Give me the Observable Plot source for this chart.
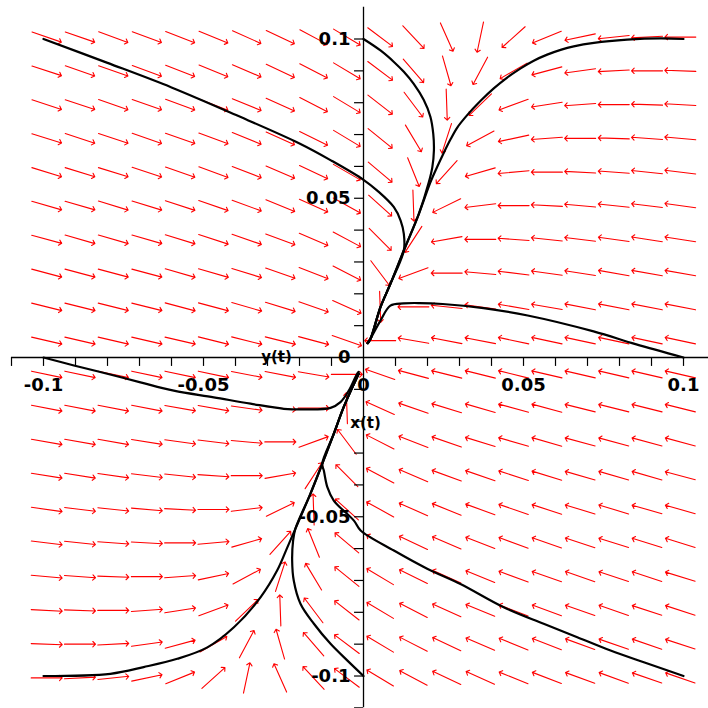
<!DOCTYPE html>
<html><head><meta charset="utf-8">
<script src="https://cdn.jsdelivr.net/npm/d3@7"></script>
<script src="https://cdn.jsdelivr.net/npm/@observablehq/plot@0.6"></script>
<style>html,body{margin:0;padding:0;background:#fff;}</style>
</head><body><div id="chart"></div>
<script>
// Direction-field grid (arrow centres)
const gridX = [-0.0990,-0.0886,-0.0782,-0.0677,-0.0573,-0.0469,-0.0365,-0.0260,-0.0156,-0.0052,0.0052,0.0156,0.0260,0.0365,0.0469,0.0573,0.0677,0.0782,0.0886,0.0990];
const gridY = [0.1006,0.0900,0.0794,0.0688,0.0582,0.0477,0.0371,0.0265,0.0159,0.0053,-0.0053,-0.0159,-0.0265,-0.0371,-0.0477,-0.0582,-0.0688,-0.0794,-0.0900,-0.1006];

// Arrow direction (degrees, counter-clockwise from +x), one row per gridY value
const arrowAngle = [
  [-19,-19,-20,-20,-21,-22,-24,-25,-28,-31,-37,-47,-66,-102,-138,-158,-168,-174,-177,-180],
  [-18,-19,-19,-20,-21,-22,-23,-25,-27,-31,-37,-49,-74,-118,-150,-165,-172,-177,-180,178],
  [-18,-18,-19,-19,-20,-21,-22,-24,-27,-31,-38,-53,-88,-136,-160,-171,-176,-180,178,177],
  [-17,-18,-18,-19,-19,-20,-22,-24,-26,-31,-39,-59,-108,-152,-168,-176,-180,178,176,175],
  [-17,-17,-17,-18,-19,-20,-21,-23,-25,-30,-40,-68,-132,-164,-175,-180,177,176,174,173],
  [-16,-16,-17,-17,-18,-19,-20,-22,-24,-29,-42,-88,-154,-173,-180,177,175,174,173,172],
  [-15,-16,-16,-16,-17,-18,-19,-20,-23,-28,-45,-123,-170,-180,176,174,173,172,171,171],
  [-15,-15,-15,-15,-16,-16,-17,-19,-21,-27,-53,-160,-180,175,173,172,171,170,170,170],
  [-14,-14,-14,-14,-15,-15,-16,-17,-19,-24,-88,-180,174,172,170,170,169,169,169,169],
  [-13,-13,-13,-13,-13,-14,-14,-14,-15,-19,-180,170,169,169,168,168,168,168,168,168],
  [-12,-12,-12,-12,-12,-12,-11,-11,-10,0,161,165,166,166,166,167,167,167,167,167],
  [-11,-11,-11,-11,-10,-10,-8,-6,0,92,156,161,163,164,165,165,166,166,166,166],
  [-10,-10,-10,-9,-8,-7,-5,0,20,127,153,159,161,163,164,164,165,165,165,165],
  [-9,-9,-8,-7,-6,-4,0,10,57,135,152,157,160,161,162,163,164,164,164,165],
  [-8,-7,-6,-5,-3,0,7,26,92,138,151,156,158,160,161,162,163,163,164,164],
  [-7,-6,-4,-3,0,5,16,48,112,140,150,155,157,159,160,161,162,163,163,163],
  [-5,-4,-2,0,4,12,28,72,121,141,149,154,156,158,160,161,161,162,162,163],
  [-3,-2,0,4,9,20,44,92,127,142,149,153,156,158,159,160,161,161,162,162],
  [-2,0,3,8,15,30,62,106,131,143,149,153,155,157,158,159,160,161,161,162],
  [0,3,6,12,22,42,78,114,133,143,149,152,155,156,158,159,160,160,161,161]
];

// Solution curves [x, y]
const curveTopAxis = [[0,0.1],[0.0053,0.0964],[0.0095,0.0928],[0.0126,0.0897],[0.0157,0.0859],[0.0188,0.0809],[0.0209,0.0756],[0.0218,0.0702],[0.022,0.065],[0.0215,0.0597],[0.0204,0.055],[0.0173,0.0451],[0.0126,0.0336],[0.0084,0.0231],[0.0053,0.0158],[0.0022,0.0059],[0.0013,0.0045]];
const curveTopRight = [[0.1,0.1],[0.0928,0.1002],[0.0824,0.0998],[0.072,0.0988],[0.0657,0.0977],[0.0616,0.0966],[0.0574,0.0951],[0.0532,0.0932],[0.0491,0.0908],[0.0449,0.0879],[0.0407,0.0845],[0.0366,0.0806],[0.0324,0.0761],[0.0293,0.0722],[0.0272,0.0685],[0.0251,0.0643],[0.023,0.0598],[0.0209,0.055],[0.0173,0.0451],[0.0126,0.0336],[0.0084,0.0231],[0.0053,0.0158],[0.0022,0.0059],[0.0013,0.0045]];
const curveTopLeft = [[-0.1,0.1],[-0.08,0.0925],[-0.06,0.0848],[-0.04,0.0762],[-0.02,0.0672],[-0.01,0.0618],[0,0.0558],[0.0043,0.0524],[0.0095,0.0472],[0.0116,0.043],[0.0126,0.0388],[0.0126,0.0336],[0.0084,0.0231],[0.0053,0.0158],[0.0022,0.0059],[0.0013,0.0045]];
const curveRightAxis = [[0.1,0],[0.085,0.0042],[0.0719,0.0082],[0.0513,0.0132],[0.0375,0.0155],[0.0247,0.0168],[0.0175,0.0171],[0.0125,0.017],[0.0084,0.0163],[0.0053,0.0116],[0.0022,0.006],[0.0013,0.0045]];
const curveBottomAxis = [[0,-0.1],[-0.0051,-0.0951],[-0.0103,-0.0899],[-0.0155,-0.0836],[-0.0197,-0.0773],[-0.0218,-0.07],[-0.0223,-0.0637],[-0.022,-0.0575],[-0.0213,-0.0538],[-0.0166,-0.0428],[-0.0129,-0.0334],[-0.0093,-0.024],[-0.0062,-0.0156],[-0.003,-0.0083],[-0.0015,-0.0051]];
const curveBottomLeft = [[-0.1,-0.1],[-0.0791,-0.0993],[-0.0687,-0.0972],[-0.0582,-0.0946],[-0.0488,-0.091],[-0.0405,-0.0847],[-0.0322,-0.0753],[-0.027,-0.0669],[-0.0238,-0.0596],[-0.0213,-0.0538],[-0.0166,-0.0428],[-0.0129,-0.0334],[-0.0093,-0.024],[-0.0062,-0.0156],[-0.003,-0.0083],[-0.0015,-0.0051]];
const curveBottomRight = [[0.1,-0.1],[0.0876,-0.0957],[0.0772,-0.092],[0.0668,-0.0878],[0.0563,-0.0836],[0.0438,-0.0784],[0.0303,-0.0711],[0.0199,-0.0663],[0.0095,-0.0606],[-0.0009,-0.0543],[-0.003,-0.0512],[-0.0093,-0.0449],[-0.0113,-0.0407],[-0.0124,-0.0355],[-0.0129,-0.0334],[-0.0093,-0.024],[-0.0062,-0.0156],[-0.003,-0.0083],[-0.0015,-0.0051]];
const curveLeftAxis = [[-0.1,0],[-0.0905,-0.0025],[-0.0801,-0.0051],[-0.0697,-0.0078],[-0.0593,-0.0104],[-0.0468,-0.0125],[-0.0353,-0.0145],[-0.0249,-0.0161],[-0.018,-0.0163],[-0.0103,-0.0158],[-0.0072,-0.014],[-0.0046,-0.0104],[-0.002,-0.0051],[-0.0015,-0.0045]];

// Axes
const xTicks = [-0.11,-0.10,-0.09,-0.08,-0.07,-0.06,-0.05,-0.04,-0.03,-0.02,-0.01,0.01,0.02,0.03,0.04,0.05,0.06,0.07,0.08,0.09,0.10];
const yTicks = [0.10,0.09,0.08,0.07,0.06,0.05,0.04,0.03,0.02,0.01,-0.01,-0.02,-0.03,-0.04,-0.05,-0.06,-0.07,-0.08,-0.09,-0.10,-0.11];
const xTickValues = [-0.1,-0.05,0,0.05,0.1];
const xTickTexts = ["-0.1","-0.05","0","0.05","0.1"];
const yTickValues = [0.1,0.05,0,-0.05,-0.1];
const yTickTexts = ["0.1","0.05","0","-0.05","-0.1"];
const axisExtent = [-0.11, 0.11];
const xAxisTitle = "x(t)";
const yAxisTitle = "y(t)";

const tickLength = 0.0028;
const arrows = [];
gridY.forEach((gy, i) => gridX.forEach((gx, j) => arrows.push({x: gx, y: gy, a: arrowAngle[i][j]})));
const curveList = [curveTopAxis, curveTopRight, curveTopLeft, curveRightAxis, curveBottomAxis, curveBottomLeft, curveBottomRight, curveLeftAxis];
const curvePts = curveList.flatMap((c, k) => c.map(([x, y]) => ({x, y, k})));

const labelFont = {fontSize: 18, fontWeight: "bold", fill: "#000"};
const titleFont = {fontSize: 15, fontWeight: "bold", fill: "#000"};

const chart = Plot.plot({
  width: 708, height: 708, margin: 0,
  x: {domain: [-0.11344, 0.10781], axis: null},
  y: {domain: [-0.1102, 0.11209], axis: null},
  style: {background: "#fff", fontFamily: "DejaVu Sans"},
  marks: [
    Plot.vector(arrows, {x: "x", y: "y", rotate: d => 90 - d.a, length: 31, anchor: "middle", stroke: "#ff0000", strokeWidth: 1.1, r: 1.5}),
    Plot.ruleY([0], {x1: d => axisExtent[0], x2: d => axisExtent[1], stroke: "#000", strokeWidth: 1.3}),
    Plot.ruleX([0], {y1: d => axisExtent[0], y2: d => axisExtent[1], stroke: "#000", strokeWidth: 1.3}),
    Plot.ruleX(xTicks, {x: d => d, y1: d => 0, y2: d => -tickLength, stroke: "#000", strokeWidth: 1.2}),
    Plot.ruleY(yTicks, {y: d => d, x1: d => 0, x2: d => -tickLength, stroke: "#000", strokeWidth: 1.2}),
    Plot.line(curvePts, {x: "x", y: "y", z: "k", stroke: "#000", strokeWidth: 2.2, curve: "catmull-rom"}),
    Plot.text(xTickValues, {x: d => d, y: d => 0, text: (d, i) => xTickTexts[i], dy: 28, ...labelFont}),
    Plot.text(yTickValues, {x: d => 0, y: d => d, text: (d, i) => yTickTexts[i], dx: -13, textAnchor: "end", ...labelFont}),
    Plot.text([yAxisTitle], {x: d => 0, y: d => 0, text: d => d, dx: -87, ...titleFont}),
    Plot.text([xAxisTitle], {x: d => 0, y: d => 0, text: d => d, dx: 2, dy: 66, ...titleFont})
  ]
});
document.getElementById("chart").appendChild(chart);
</script></body></html>
